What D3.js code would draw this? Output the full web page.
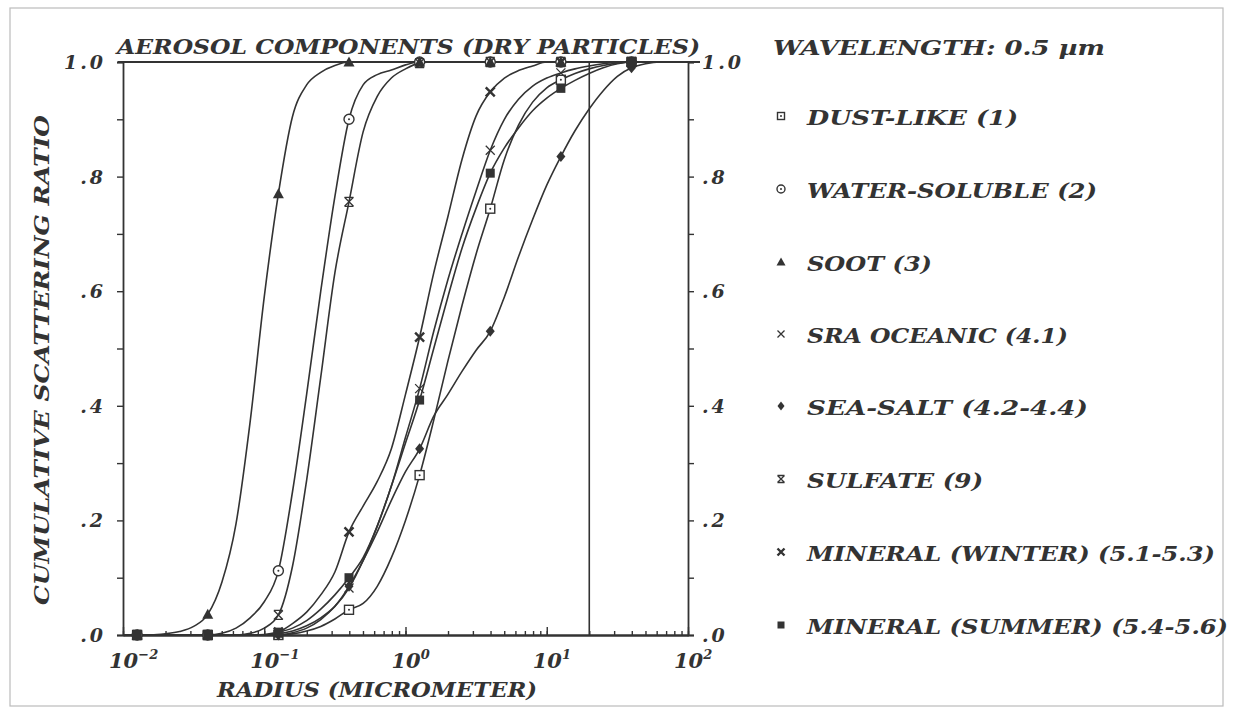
<!DOCTYPE html>
<html><head><meta charset="utf-8">
<script src="https://cdn.jsdelivr.net/npm/d3@7"></script>
<style>
body{margin:0;background:#fff}
svg{display:block}
text{font-family:"DejaVu Serif",serif;font-style:italic;font-weight:bold;fill:#333}
</style>
</head><body><svg id="c" width="1233" height="709"></svg>
<script>
// log10 of radius (micrometer) at which the curves are sampled
const logRadius = [-2.0,-1.9,-1.8,-1.7,-1.6,-1.5,-1.4,-1.3,-1.2,-1.1,
  -1.0,-0.9,-0.8,-0.7,-0.6,-0.5,-0.4,-0.3,-0.2,-0.1,
  0.0,0.1,0.2,0.3,0.4,0.5,0.6,0.7,0.8,0.9,
  1.0,1.1,1.2,1.3,1.4,1.5,1.6,1.7,1.8,1.9,2.0];

const dustLike = [0,0,0,0,0,0,0,0,0,0,
  0,0,0.002,0.007,0.015,0.028,0.044,0.055,0.085,0.135,
  0.20,0.279,0.375,0.478,0.575,0.665,0.744,0.83,0.89,0.93,
  0.955,0.969,0.98,0.988,0.994,0.998,1,1,1,1,1];
const waterSoluble = [0,0,0,0,0,0,0,0.003,0.012,0.03,
  0.058,0.112,0.25,0.42,0.60,0.765,0.90,0.96,0.978,0.986,
  0.995,1,1,1,1,1,1,1,1,1,
  1,1,1,1,1,1,1,1,1,1,1];
const soot = [0,0,0,0.002,0.006,0.015,0.036,0.092,0.194,0.372,
  0.59,0.77,0.905,0.96,0.982,0.994,1,1,1,1,
  1,1,1,1,1,1,1,1,1,1,
  1,1,1,1,1,1,1,1,1,1,1];
const sraOceanic = [0,0,0,0,0,0,0,0,0,0,
  0,0.002,0.007,0.016,0.03,0.05,0.082,0.13,0.19,0.26,
  0.345,0.43,0.53,0.62,0.70,0.775,0.846,0.90,0.935,0.958,
  0.972,0.981,0.988,0.993,0.997,1,1,1,1,1,1];
const seaSalt = [0,0,0,0,0,0,0,0,0,0,
  0,0,0.004,0.012,0.027,0.05,0.085,0.13,0.18,0.235,
  0.285,0.325,0.382,0.42,0.46,0.497,0.53,0.59,0.66,0.725,
  0.785,0.835,0.88,0.918,0.95,0.975,0.99,0.997,1,1,1];
const sulfate = [0,0,0,0,0,0,0,0,0,0.003,
  0.012,0.035,0.12,0.27,0.45,0.632,0.756,0.878,0.94,0.972,
  0.988,0.998,1,1,1,1,1,1,1,1,
  1,1,1,1,1,1,1,1,1,1,1];
const mineralWinter = [0,0,0,0,0,0,0,0,0,0,
  0,0.005,0.02,0.04,0.07,0.11,0.18,0.225,0.268,0.325,
  0.42,0.52,0.632,0.73,0.83,0.906,0.948,0.972,0.985,0.993,
  1,1,1,1,1,1,1,1,1,1,1];
const mineralSummer = [0,0,0,0,0,0,0,0,0,0,
  0.001,0.005,0.012,0.025,0.045,0.07,0.10,0.135,0.19,0.26,
  0.335,0.41,0.50,0.59,0.675,0.745,0.806,0.85,0.885,0.915,
  0.937,0.954,0.968,0.98,0.99,0.997,1,1,1,1,1];

const seriesLabels = ["DUST-LIKE (1)","WATER-SOLUBLE (2)","SOOT (3)","SRA OCEANIC (4.1)",
  "SEA-SALT (4.2-4.4)","SULFATE (9)","MINERAL (WINTER) (5.1-5.3)","MINERAL (SUMMER) (5.4-5.6)"];
const seriesValues = [dustLike,waterSoluble,soot,sraOceanic,seaSalt,sulfate,mineralWinter,mineralSummer];
const seriesMarkers = ["square","circle","triangle","cross","diamond","hourglass","boldcross","filledsquare"];
const markerEvery = 5, markerOffset = 1;

const yTicks = [0,0.2,0.4,0.6,0.8,1.0];
const yTickLabels = [".0",".2",".4",".6",".8","1.0"];
const yMinorTicks = [0,0.1,0.2,0.3,0.4,0.5,0.6,0.7,0.8,0.9,1.0];
const xDecades = [0.01,0.1,1,10,100];
const xDecadeExponents = ["-2","-1","0","1","2"];
const cutoffRadius = 20;
const titleText = "AEROSOL COMPONENTS (DRY PARTICLES)";
const wavelengthText = "WAVELENGTH: 0.5 \u00b5m";
const xTitle = "RADIUS (MICROMETER)";
const yTitle = "CUMULATIVE SCATTERING RATIO";

const ink = "#333";
const svg = d3.select("#c");
const L = 123, R = 688, T = 62, B = 635;
const x = d3.scaleLog().domain([0.01,100]).range([L,R]);
const y = d3.scaleLinear().domain([0,1]).range([B,T]);

// page frame (scan border)
svg.append("rect").attr("x",10).attr("y",8).attr("width",1213).attr("height",698)
  .attr("fill","none").attr("stroke","#bbb").attr("stroke-width",1.2);

// axes
const gL = svg.append("g").attr("transform",`translate(${L},0)`)
  .call(d3.axisLeft(y).tickValues(yMinorTicks).tickSize(6).tickFormat(""));
const gR = svg.append("g").attr("transform",`translate(${R},0)`)
  .call(d3.axisRight(y).tickValues(yMinorTicks).tickSize(6).tickFormat(""));
const minorX = x.ticks(40);
const gB = svg.append("g").attr("transform",`translate(0,${B})`)
  .call(d3.axisBottom(x).tickValues(minorX).tickSizeInner(-4).tickSizeOuter(0).tickFormat(""));
const gB2 = svg.append("g").attr("transform",`translate(0,${B})`)
  .call(d3.axisBottom(x).tickValues(xDecades).tickSizeInner(-8).tickSizeOuter(0).tickFormat(""));
const gT = svg.append("g").attr("transform",`translate(0,${T})`)
  .call(d3.axisTop(x).tickValues([]).tickSizeOuter(0));
[gL,gR,gB,gB2,gT].forEach(g=>{
  g.selectAll("path.domain").attr("stroke",ink).attr("stroke-width",1.8);
  g.selectAll(".tick line").attr("stroke",ink).attr("stroke-width",1.4);
});
gT.select("path.domain").attr("d",`M${L-5},0H${R+12}`);

// cutoff vertical line
svg.append("line").attr("x1",x(cutoffRadius)).attr("x2",x(cutoffRadius))
  .attr("y1",y(0)).attr("y2",y(1)).attr("stroke",ink).attr("stroke-width",1.6);

// tick labels
yTicks.forEach((v,i)=>{
  svg.append("text").attr("x",L-17).attr("y",y(v)+7).attr("text-anchor","end")
    .attr("font-size",19).attr("letter-spacing",3).text(yTickLabels[i]);
  svg.append("text").attr("x",R+14).attr("y",y(v)+7).attr("text-anchor","start")
    .attr("font-size",19).attr("letter-spacing",3).text(yTickLabels[i]);
});
xDecades.forEach((d,i)=>{
  const t = svg.append("text").attr("x",x(d)-14).attr("y",B+33).attr("font-size",21);
  t.append("tspan").text("10");
  t.append("tspan").attr("dy",-9).attr("font-size",13).text(xDecadeExponents[i].replace("-","\u2212"));
});

// titles
svg.append("text").attr("x",117).attr("y",54).attr("font-size",21)
  .attr("textLength",583).attr("lengthAdjust","spacingAndGlyphs").text(titleText);
svg.append("text").attr("x",217).attr("y",697).attr("font-size",21)
  .attr("textLength",320).attr("lengthAdjust","spacingAndGlyphs").text(xTitle);
svg.append("text").attr("transform","translate(49,605) rotate(-90)").attr("font-size",20)
  .attr("textLength",490).attr("lengthAdjust","spacingAndGlyphs").text(yTitle);

// curves
const line = d3.line().x(d=>x(d[0])).y(d=>y(d[1])).curve(d3.curveMonotoneX);
seriesValues.forEach(vals=>{
  const pts = logRadius.map((e,i)=>[Math.pow(10,e),vals[i]]);
  svg.append("path").attr("d",line(pts)).attr("fill","none")
    .attr("stroke",ink).attr("stroke-width",1.6);
});

function marker(g,type,cx,cy,s){
  const h = s/2;
  switch(type){
    case "square":
      g.append("rect").attr("x",cx-h).attr("y",cy-h).attr("width",s).attr("height",s)
        .attr("fill","#fff").attr("stroke",ink).attr("stroke-width",1.4);
      g.append("circle").attr("cx",cx).attr("cy",cy).attr("r",1).attr("fill",ink);
      break;
    case "circle":
      g.append("circle").attr("cx",cx).attr("cy",cy).attr("r",h+0.5)
        .attr("fill","#fff").attr("stroke",ink).attr("stroke-width",1.4);
      g.append("circle").attr("cx",cx).attr("cy",cy).attr("r",1).attr("fill",ink);
      break;
    case "triangle":
      g.append("path").attr("d",`M${cx},${cy-h-1}L${cx+h+1},${cy+h}L${cx-h-1},${cy+h}Z`).attr("fill",ink);
      break;
    case "cross":
      g.append("path").attr("d",`M${cx-h},${cy-h}L${cx+h},${cy+h}M${cx-h},${cy+h}L${cx+h},${cy-h}`)
        .attr("stroke",ink).attr("stroke-width",1.3);
      break;
    case "diamond":
      g.append("path").attr("d",`M${cx},${cy-h-1}L${cx+h},${cy}L${cx},${cy+h+1}L${cx-h},${cy}Z`).attr("fill",ink);
      break;
    case "hourglass":
      g.append("path").attr("d",`M${cx-h},${cy-h}L${cx+h},${cy+h}M${cx-h},${cy+h}L${cx+h},${cy-h}M${cx-h},${cy-h}H${cx+h}M${cx-h},${cy+h}H${cx+h}`)
        .attr("stroke",ink).attr("stroke-width",1.3);
      break;
    case "boldcross":
      g.append("path").attr("d",`M${cx-h},${cy-h}L${cx+h},${cy+h}M${cx-h},${cy+h}L${cx+h},${cy-h}`)
        .attr("stroke",ink).attr("stroke-width",2.4);
      break;
    case "filledsquare":
      g.append("rect").attr("x",cx-h).attr("y",cy-h).attr("width",s).attr("height",s).attr("fill",ink);
      break;
  }
}

const gm = svg.append("g");
seriesValues.forEach((vals,k)=>{
  logRadius.forEach((e,i)=>{
    if ((i - markerOffset) % markerEvery === 0 && i >= markerOffset)
      marker(gm,seriesMarkers[k],x(Math.pow(10,e)),y(vals[i]),9);
  });
});

// legend
svg.append("text").attr("x",773).attr("y",55).attr("font-size",21)
  .attr("textLength",332).attr("lengthAdjust","spacingAndGlyphs").text(wavelengthText);
const legendY = [116,189,262,334,406,479,552,625];
const legendW = [211,290,125,261,281,176,408,421];
seriesLabels.forEach((lab,k)=>{
  marker(svg,seriesMarkers[k],781,legendY[k],7);
  svg.append("text").attr("x",807).attr("y",legendY[k]+9).attr("font-size",21)
    .attr("textLength",legendW[k]).attr("lengthAdjust","spacingAndGlyphs").text(lab);
});
</script></body></html>
